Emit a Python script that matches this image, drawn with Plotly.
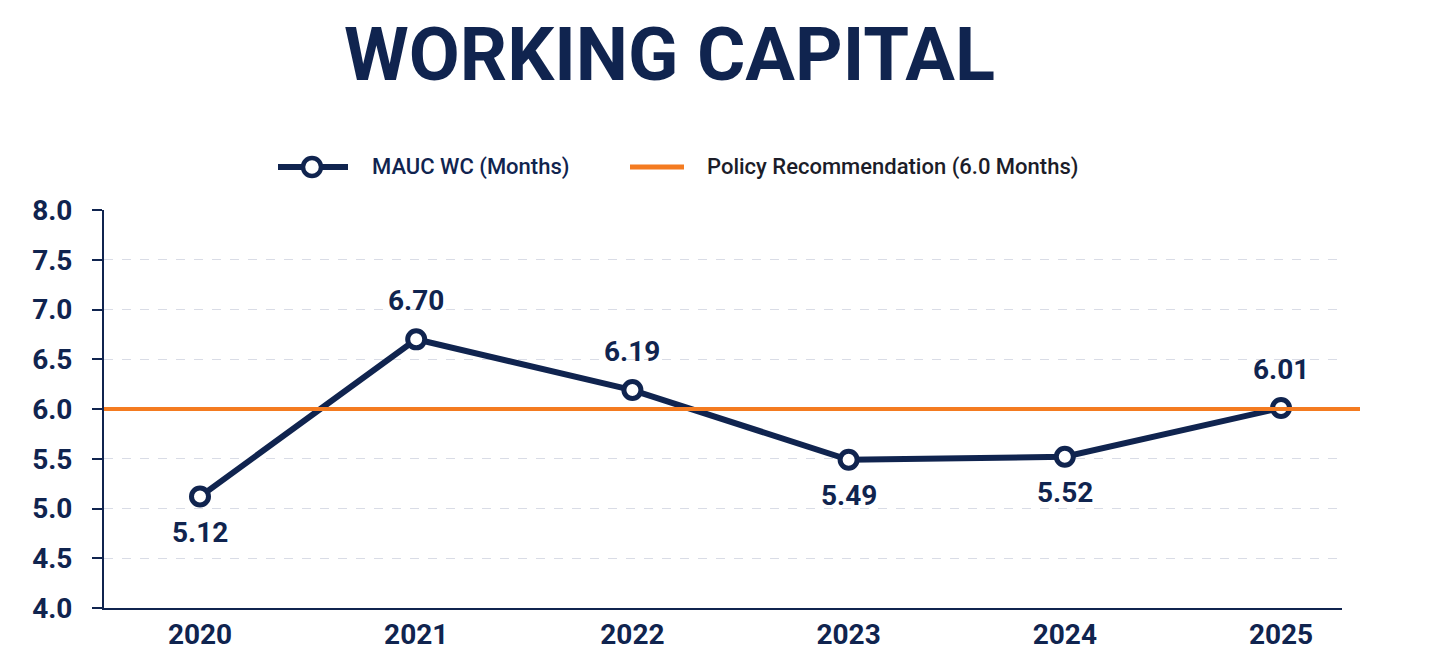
import plotly.graph_objects as go

years = [2020, 2021, 2022, 2023, 2024, 2025]
mauc_wc = [5.12, 6.70, 6.19, 5.49, 5.52, 6.01]
label_pos = ["below", "above", "above", "below", "below", "above"]
policy = 6.0
y_ticks = [4.0, 4.5, 5.0, 5.5, 6.0, 6.5, 7.0, 7.5, 8.0]

navy = "#10244f"
orange = "#f47b20"
font = "Roboto"

# page body has an 8px margin, so the figure is a bit smaller than the window
W, H = 1422, 645
L, T = 96, 202
pw, ph = 1238, 398
R, B = W - L - pw, H - T - ph


# helpers take window pixel positions
def px(x):
    return (x - 8 - L) / pw


def py(y):
    return (T + ph - (y - 8)) / ph


fig = go.Figure()

fig.add_trace(go.Scatter(
    x=years, y=mauc_wc, mode="lines+markers",
    line=dict(color=navy, width=6),
    marker=dict(size=17, color="white", line=dict(color=navy, width=5)),
    showlegend=False, cliponaxis=False,
))

# data labels
for yr, v, pos in zip(years, mauc_wc, label_pos):
    fig.add_annotation(
        x=yr, y=v, text=f"{v:.2f}", showarrow=False,
        yshift=39 if pos == "above" else -36, yanchor="middle",
        font=dict(family=font, size=28, color=navy, weight="bold"),
    )

shapes = [
    # policy line, runs a bit past the plot area
    dict(type="line", xref="paper", yref="y", x0=0, x1=px(1360), y0=policy, y1=policy,
         line=dict(color=orange, width=4), layer="above"),
    # legend symbols
    dict(type="line", xref="paper", yref="paper", x0=px(278), x1=px(348), y0=py(167), y1=py(167),
         line=dict(color=navy, width=6)),
    dict(type="circle", xref="paper", yref="paper", x0=px(303), x1=px(321), y0=py(176), y1=py(158),
         line=dict(color=navy, width=4.5), fillcolor="white"),
    dict(type="line", xref="paper", yref="paper", x0=px(630), x1=px(684), y0=py(167), y1=py(167),
         line=dict(color=orange, width=5)),
]

fig.add_annotation(xref="paper", yref="paper", x=px(370), y=py(167), xanchor="left", yanchor="middle",
                   text="MAUC WC (Months)", showarrow=False,
                   font=dict(family=font, size=22, color=navy, weight=500))
fig.add_annotation(xref="paper", yref="paper", x=px(705), y=py(167), xanchor="left", yanchor="middle",
                   text="Policy Recommendation (6.0 Months)", showarrow=False,
                   font=dict(family=font, size=22, color="#1c1d29", weight=500))

# title
fig.add_annotation(xref="paper", yref="paper", x=px(669), y=py(54), xanchor="center", yanchor="middle",
                   text="WORKING CAPITAL", showarrow=False,
                   font=dict(family=font, size=74, color=navy, weight="bold"))

fig.update_layout(
    width=W, height=H,
    margin=dict(l=L, r=R, t=T, b=B),
    paper_bgcolor="white", plot_bgcolor="white",
    shapes=shapes,
    showlegend=False,
    xaxis=dict(
        range=[2019.556, 2025.282], tickvals=years, ticktext=[str(y) for y in years],
        showgrid=False, zeroline=False, automargin=False,
        showline=True, linecolor=navy, linewidth=2,
        ticks="", ticklabelstandoff=0,
        tickfont=dict(family=font, size=28, color=navy, weight="bold"),
    ),
    yaxis=dict(
        range=[4, 8], tickvals=y_ticks, ticktext=[f"{t:.1f}" for t in y_ticks],
        showgrid=True, gridcolor="#d9dce6", griddash="dash", gridwidth=1,
        zeroline=False, automargin=False,
        showline=True, linecolor=navy, linewidth=2,
        ticks="outside", ticklen=10, tickcolor=navy, tickwidth=2,
        ticklabelstandoff=14,
        tickfont=dict(family=font, size=28, color=navy, weight="bold"),
    ),
)

fig.write_html("out.html")
